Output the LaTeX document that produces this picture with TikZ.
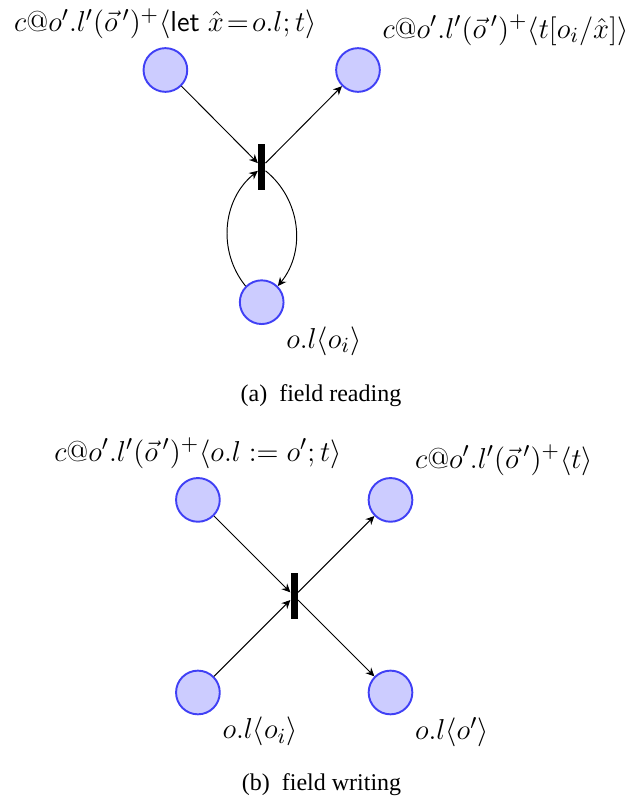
\documentclass[tikz,border=0pt]{standalone}
\usepackage{xcolor}
\usepackage{amsmath}
\usepackage[no-math]{fontspec}
\newfontfamily\capfont{Liberation Serif}
\usepackage{tikz}
\usetikzlibrary{arrows.meta, positioning}
\definecolor{placefill}{RGB}{204,204,255}
\definecolor{placedraw}{RGB}{64,64,245}
\tikzset{
  placenode/.style={circle, draw=placedraw, fill=placefill,
    minimum size=0.64cm, inner sep=0pt, line width=0.8pt},
  transbar/.style={rectangle, fill=black, minimum width=2.8pt,
    minimum height=0.67cm, inner sep=0pt},
  flow/.style={-{Stealth[length=3.6pt, width=3.4pt, inset=1.2pt]}, thin},
  lbl/.style={font=\fontsize{12.5}{15}\selectfont},
  subcap/.style={font=\capfont}
}

\begin{document}
\begin{tikzpicture}
  \useasboundingbox (0,0) rectangle (9.313,-11.773);

  % field reading
  \begin{scope}[shift={(3.832,-2.445)}]
    \node[transbar] (ta) at (0,0) {};
    \node[placenode] (ra1) at (-1.41,1.42) {};
    \node[placenode] (ra2) at (1.41,1.42) {};
    \node[placenode] (ra3) at (0,-1.98) {};

    \node[lbl, above=0pt of ra1] (la1) {$c@o'.l'(\vec{o}\,')^+\langle \mathsf{let}\;\hat{x}\!=\!o.l;t\rangle$};
    \node[lbl, above right=0pt of ra2] (la2) {$c@o'.l'(\vec{o}\,')^+\langle t[o_i/\hat{x}]\rangle$};
    \node[lbl, below right=0pt of ra3] (la3) {$o.l\langle o_i\rangle$};

    \draw[flow] (ra1) -- (ta);
    \draw[flow] (ta) -- (ra2);
    \draw[flow] (ra3) to[bend left=45] (ta);
    \draw[flow] (ta) to[bend left=45] (ra3);
  \end{scope}
  \node[subcap] (capa) at (4.70,-5.795) {(a)\enspace field reading};

  % field writing
  \begin{scope}[shift={(4.308,-8.730)}]
    \node[transbar] (tb) at (0,0) {};
    \node[placenode] (wb1) at (-1.41,1.41) {};
    \node[placenode] (wb2) at (1.41,1.41) {};
    \node[placenode] (wb3) at (-1.41,-1.41) {};
    \node[placenode] (wb4) at (1.41,-1.41) {};

    \node[lbl, above=0pt of wb1] (lb1) {$c@o'.l'(\vec{o}\,')^+\langle o.l := o';t\rangle$};
    \node[lbl, above right=0pt of wb2] (lb2) {$c@o'.l'(\vec{o}\,')^+\langle t\rangle$};
    \node[lbl, below right=0pt of wb3] (lb3) {$o.l\langle o_i\rangle$};
    \node[lbl, below right=0pt of wb4] (lb4) {$o.l\langle o'\rangle$};

    \draw[flow] (wb1) -- (tb);
    \draw[flow] (wb3) -- (tb);
    \draw[flow] (tb) -- (wb2);
    \draw[flow] (tb) -- (wb4);
  \end{scope}
  \node[subcap] (capb) at (4.708,-11.483) {(b)\enspace field writing};
\end{tikzpicture}
\end{document}
